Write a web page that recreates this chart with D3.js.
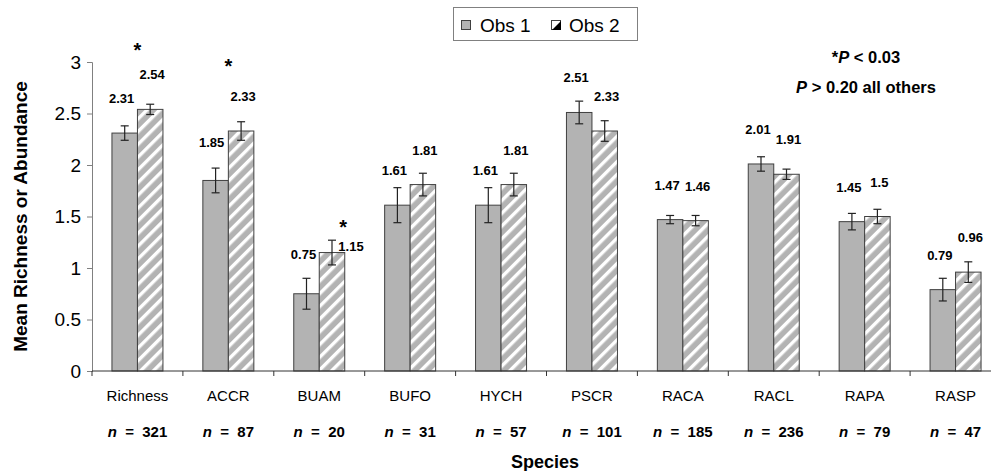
<!DOCTYPE html>
<html><head><meta charset="utf-8">
<script src="https://cdn.jsdelivr.net/npm/d3@7"></script>
<style>
html,body{margin:0;padding:0;background:#fff;}
svg{display:block;font-family:"Liberation Sans",Arial,sans-serif;}
</style></head>
<body>
<svg id="chart" width="991" height="471"></svg>
<script>
// ---- data ----
const categories = ["Richness","ACCR","BUAM","BUFO","HYCH","PSCR","RACA","RACL","RAPA","RASP"];
const sampleSizes = [321, 87, 20, 31, 57, 101, 185, 236, 79, 47];
const obs1 = [2.31, 1.85, 0.75, 1.61, 1.61, 2.51, 1.47, 2.01, 1.45, 0.79];
const obs2 = [2.54, 2.33, 1.15, 1.81, 1.81, 2.33, 1.46, 1.91, 1.5, 0.96];
const err1 = [0.07, 0.12, 0.15, 0.17, 0.17, 0.11, 0.04, 0.07, 0.08, 0.11];
const err2 = [0.05, 0.09, 0.12, 0.11, 0.11, 0.10, 0.05, 0.05, 0.07, 0.10];
const seriesNames = ["Obs 1", "Obs 2"];
const significant = ["Richness", "ACCR", "BUAM"];
const sigLevel = [3.15, 2.99, 1.43];
const yTicks = [0, 0.5, 1, 1.5, 2, 2.5, 3];

(function () {
// ---- layout ----
const svg = d3.select("#chart");
const mLeft = 92, mTop = 62, mBottom = 371;
const catW = 90.9;
const mRight = mLeft + categories.length * catW;

const x = d3.scaleBand().domain(categories).range([mLeft, mRight]).padding(0);
const xs = d3.scaleBand().domain(["obs1","obs2"]).range([(catW-51)/2, (catW+51)/2]).padding(0);
const y = d3.scaleLinear().domain([0, 3]).range([mBottom, mTop]);

// label placement tweaks (mimic the hand-placed labels of the original)
const labelDx = [-3, 2];
const labelNudge = {"BUAM|1": [19, 28], "BUAM|0": [-3, -5], "ACCR|0": [-4, -3]};

// pattern for Obs 2
const defs = svg.append("defs");
const pat = defs.append("pattern").attr("id","hatch").attr("patternUnits","userSpaceOnUse")
  .attr("width", 9).attr("height", 9).attr("patternTransform","rotate(45)");
pat.append("rect").attr("width", 9).attr("height", 9).attr("fill", "#b3b3b3");
pat.append("rect").attr("x", 0).attr("width", 3.4).attr("height", 9).attr("fill", "#ffffff");

const rows = categories.map((c, i) => ({c, i, v: [obs1[i], obs2[i]], e: [err1[i], err2[i]]}));

// y axis
const yAxis = d3.axisLeft(y).tickValues(yTicks).tickSize(5).tickFormat(d3.format("~g"));
const gy = svg.append("g").attr("transform", `translate(${mLeft},0)`).call(yAxis);
gy.select(".domain").attr("stroke", "#808080");
gy.selectAll(".tick line").attr("stroke", "#808080");
gy.selectAll(".tick text").attr("font-size", 19).attr("fill", "#000").attr("x", -11)
  .attr("font-family", '"Liberation Sans",Arial,sans-serif');

// bars
const g = svg.append("g");
rows.forEach(r => {
  ["obs1","obs2"].forEach((s, k) => {
    const x0 = x(r.c) + xs(s);
    g.append("rect").attr("x", x0).attr("y", y(r.v[k]))
      .attr("width", xs.bandwidth()).attr("height", y(0) - y(r.v[k]))
      .attr("fill", k === 0 ? "#b3b3b3" : "url(#hatch)")
      .attr("stroke", "#404040").attr("stroke-width", 1);
    const cx = x0 + xs.bandwidth() / 2;
    const eg = g.append("g").attr("stroke", "#222").attr("stroke-width", 1.2);
    eg.append("line").attr("x1", cx).attr("x2", cx).attr("y1", y(r.v[k] + r.e[k])).attr("y2", y(r.v[k] - r.e[k]));
    eg.append("line").attr("x1", cx - 4).attr("x2", cx + 4).attr("y1", y(r.v[k] + r.e[k])).attr("y2", y(r.v[k] + r.e[k]));
    eg.append("line").attr("x1", cx - 4).attr("x2", cx + 4).attr("y1", y(r.v[k] - r.e[k])).attr("y2", y(r.v[k] - r.e[k]));
    const nudge = labelNudge[r.c + "|" + k] || [labelDx[k], 0];
    g.append("text").attr("x", cx + nudge[0]).attr("y", y(r.v[k]) - 30 + nudge[1])
      .attr("text-anchor", "middle").attr("font-size", 13).attr("font-weight", "bold")
      .text(d3.format("~g")(r.v[k]));
  });
});

// x axis
const xAxisLine = svg.append("g");
xAxisLine.append("line").attr("x1", mLeft).attr("x2", 991).attr("y1", mBottom).attr("y2", mBottom)
  .attr("stroke", "#333").attr("stroke-width", 1);
categories.forEach((c, i) => {
  const bx = x(c);
  xAxisLine.append("line").attr("x1", bx).attr("x2", bx).attr("y1", mBottom).attr("y2", mBottom + 5)
    .attr("stroke", "#333");
  const cx = bx + x.bandwidth() / 2;
  svg.append("text").attr("x", cx).attr("y", 401).attr("text-anchor", "middle")
    .attr("font-size", 15).text(c);
  const t = svg.append("text").attr("x", cx).attr("y", 437).attr("text-anchor", "middle")
    .attr("font-size", 15).attr("font-weight", "bold").attr("xml:space", "preserve");
  t.append("tspan").attr("font-style", "italic").text("n");
  t.append("tspan").text("  =  " + sampleSizes[i]);
});

// significance asterisks
significant.forEach((c, i) => {
  svg.append("text").attr("x", x(c) + x.bandwidth() / 2 + (i === 2 ? 24 : 0)).attr("y", y(sigLevel[i]) + 10)
    .attr("text-anchor", "middle").attr("font-size", 20).attr("font-weight", "bold").text("*");
});

// axis titles
svg.append("text").attr("transform", `translate(27,${(mTop + mBottom) / 2}) rotate(-90)`)
  .attr("text-anchor", "middle").attr("font-size", 19).attr("font-weight", "bold")
  .text("Mean Richness or Abundance");
svg.append("text").attr("x", 545).attr("y", 468).attr("text-anchor", "middle")
  .attr("font-size", 18).attr("font-weight", "bold").text("Species");

// legend
const lg = svg.append("g");
lg.append("rect").attr("x", 453.5).attr("y", 7.5).attr("width", 184).attr("height", 33)
  .attr("fill", "#fff").attr("stroke", "#808080");
lg.append("rect").attr("x", 461.5).attr("y", 20.5).attr("width", 9).attr("height", 9)
  .attr("fill", "#b3b3b3").attr("stroke", "#404040");
lg.append("text").attr("x", 480).attr("y", 32).attr("font-size", 19).text(seriesNames[0]);
lg.append("rect").attr("x", 551.5).attr("y", 20.5).attr("width", 9).attr("height", 9)
  .attr("fill", "#fff").attr("stroke", "#404040");
lg.append("path").attr("d", "M552,30 L561,21 L561,30 Z").attr("fill", "#000");
lg.append("text").attr("x", 569).attr("y", 32).attr("font-size", 19).text(seriesNames[1]);

// p-value annotation
const a1 = svg.append("text").attr("x", 866).attr("y", 63).attr("text-anchor", "middle")
  .attr("font-size", 16.5).attr("font-weight", "bold").attr("xml:space", "preserve");
a1.append("tspan").text("*");
a1.append("tspan").attr("font-style", "italic").text("P");
a1.append("tspan").text(" < 0.03");
const a2 = svg.append("text").attr("x", 866).attr("y", 93).attr("text-anchor", "middle")
  .attr("font-size", 16.5).attr("font-weight", "bold").attr("xml:space", "preserve");
a2.append("tspan").attr("font-style", "italic").text("P");
a2.append("tspan").text(" > 0.20 all others");
})();
</script>
</body></html>
